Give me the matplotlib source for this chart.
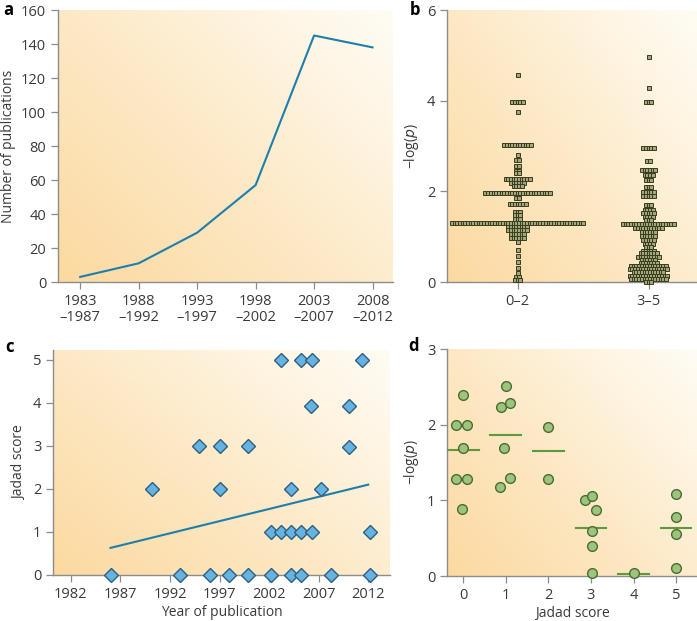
import numpy as np
import matplotlib
matplotlib.use('Agg')
import matplotlib.pyplot as plt
from matplotlib.colors import LinearSegmentedColormap

plt.rcParams['font.family'] = ['Open Sans', 'DejaVu Sans']
plt.rcParams['font.size'] = 10

# ---------------- data ----------------
# panel a
a_periods = ['1983\n\u20131987', '1988\n\u20131992', '1993\n\u20131997',
             '1998\n\u20132002', '2003\n\u20132007', '2008\n\u20132012']
a_counts = [3, 11, 29, 57, 145, 138]

# panel b: rows of the dot plot (value, number of studies)
b_low_vals = [4.57, 3.97, 3.76, 3.02, 2.8, 2.69, 2.56, 2.45, 2.4, 2.27, 2.19, 2.12,
              1.97, 1.85, 1.71, 1.55, 1.48, 1.38, 1.3, 1.22, 1.15, 1.06, 0.96,
              0.89, 0.71, 0.57, 0.45, 0.3, 0.19, 0.1, 0.04]
b_low_counts = [1, 5, 1, 11, 1, 2, 2, 2, 2, 10, 6, 4,
                25, 2, 7, 3, 3, 3, 50, 8, 8, 6, 6,
                1, 1, 1, 1, 1, 1, 2, 3]
b_high_vals = [4.97, 4.29, 3.98, 2.96, 2.66, 2.47, 2.36, 2.25, 2.1, 1.98, 1.9,
               1.7, 1.59, 1.52, 1.44, 1.37, 1.28, 1.2, 1.11, 1.02, 0.93, 0.84,
               0.77, 0.69, 0.63, 0.56, 0.49, 0.42, 0.35, 0.29, 0.21, 0.13, 0.07, 0.01]
b_high_counts = [1, 1, 3, 5, 2, 6, 4, 3, 3, 5, 5,
                 3, 4, 5, 4, 3, 20, 11, 6, 6, 5, 4,
                 3, 5, 7, 9, 6, 7, 14, 15, 12, 15, 14, 3]
b_groups = ['0\u20132', '3\u20135']

# panel c
c_years = [1986.1, 1990.2, 1993.0, 1994.9, 1996.0, 1997.0, 1997.0, 1998.0, 1999.85,
           1999.9, 2002.2, 2002.2, 2003.2, 2003.2, 2004.2, 2004.2, 2004.2, 2005.2,
           2005.2, 2005.2, 2006.3, 2006.2, 2006.3, 2007.2, 2008.2, 2011.4, 2010.1,
           2010.1, 2012.2, 2012.2]
c_scores = [0, 2, 0, 3, 0, 3, 2, 0, 3,
            0, 0, 1, 1, 5, 1, 2, 0, 5,
            1, 0, 5, 3.93, 1, 2, 0, 5, 3.93,
            2.98, 1, 0]
c_trend_years = [1986, 2012]
c_trend_scores = [0.63, 2.1]

# panel d
d_x = [0.0, -0.16, 0.10, 0.0, -0.17, 0.09, -0.02,
       1.0, 0.89, 1.11, 0.97, 1.11, 0.87,
       2.0, 2.0,
       2.86, 3.03, 3.13, 3.02, 3.02, 3.03,
       4.0,
       5.0, 5.0, 5.0, 5.0]
d_vals = [2.39, 2.0, 2.0, 1.69, 1.28, 1.28, 0.89,
          2.51, 2.23, 2.29, 1.69, 1.30, 1.18,
          1.97, 1.28,
          1.0, 1.06, 0.87, 0.60, 0.40, 0.035,
          0.044,
          1.09, 0.78, 0.56, 0.10]
d_scores = [0, 1, 2, 3, 4, 5]
d_medians = [1.67, 1.87, 1.65, 0.635, 0.026, 0.635]

# ---------------- style ----------------
grad_cmap = LinearSegmentedColormap.from_list('bg', ['#fffcf4', '#fde9c6', '#fcd9a0'])
spine_col = '#8c8c8c'
text_col = '#3a3a3a'
blue_line = '#1f7fac'


def style_axes(ax):
    for s in ['top', 'right']:
        ax.spines[s].set_visible(False)
    for s in ['left', 'bottom']:
        ax.spines[s].set_color(spine_col)
        ax.spines[s].set_linewidth(1.0)
    ax.tick_params(colors=spine_col, labelcolor=text_col, length=5, width=0.9,
                   labelsize=10.5, direction='out')


def add_gradient(ax):
    gx, gy = np.meshgrid(np.linspace(0, 1, 200), np.linspace(0, 1, 200))
    t = ((1 - gx) * 0.55 + (1 - gy) * 0.45)
    ax.imshow(t ** 1.1, cmap=grad_cmap, vmin=0, vmax=1, extent=(0, 1, 0, 1),
              origin='lower', transform=ax.transAxes, aspect='auto', zorder=0,
              interpolation='bilinear')


W, H = 697, 621
fig = plt.figure(figsize=(W / 100, H / 100), dpi=100)


def px_axes(x0, y0, x1, y1):
    return fig.add_axes([x0 / W, 1 - y1 / H, (x1 - x0) / W, (y1 - y0) / H])


# ---------------- panel a ----------------
ax = px_axes(58, 10, 393, 282)
add_gradient(ax)
ax.plot(range(len(a_counts)), a_counts, color=blue_line, lw=1.5, zorder=3)
ax.set_xlim(-0.38, 5.35)
ax.set_ylim(0, 160)
ax.set_yticks(range(0, 161, 20))
ax.set_xticks(range(len(a_periods)))
ax.set_xticklabels(a_periods, linespacing=1.1)
ax.set_ylabel('Number of publications', color=text_col, fontsize=10)
style_axes(ax)
fig.text(3 / W, 1 - 10 / H, 'a', fontsize=12, fontweight='bold', va='center')

# ---------------- panel b ----------------
ax = px_axes(447, 10, 697, 282)
add_gradient(ax)
pitch = 0.0205
for gi, (vals, counts) in enumerate([(b_low_vals, b_low_counts),
                                     (b_high_vals, b_high_counts)]):
    xs, ys = [], []
    for v, n in zip(vals, counts):
        offs = (np.arange(n) - (n - 1) / 2) * pitch
        xs.extend(gi + offs)
        ys.extend([v] * n)
    ax.plot(xs, ys, ls='none', marker='s', ms=2.2, mfc='#a3a878', mec='#3b3b22',
            mew=0.7, zorder=3, clip_on=False)
ax.set_xlim(-0.54, 1.37)
ax.set_ylim(0, 6)
ax.set_yticks([0, 2, 4, 6])
ax.set_xticks([0, 1])
ax.set_xticklabels(b_groups)
ax.set_ylabel('\u2212log($p$)', color=text_col, fontsize=10)
style_axes(ax)
fig.text(410 / W, 1 - 10 / H, 'b', fontsize=12, fontweight='bold', va='center')

# ---------------- panel c ----------------
ax = px_axes(53, 350, 390, 575)
add_gradient(ax)
ax.plot(c_trend_years, c_trend_scores, color=blue_line, lw=1.5, zorder=3)
ax.plot(c_years, c_scores, ls='none', marker='D', ms=7.5, mfc='#66b2e0',
        mec='#2d5f80', mew=1.0, zorder=4, clip_on=False)
ax.set_xlim(1980.2, 2014.2)
ax.set_ylim(0, 5.23)
ax.set_xticks(range(1982, 2013, 5))
ax.set_yticks(range(0, 6))
ax.set_xlabel('Year of publication', color=text_col, fontsize=10, labelpad=2)
ax.set_ylabel('Jadad score', color=text_col, fontsize=10)
style_axes(ax)
fig.text(5 / W, 1 - 347 / H, 'c', fontsize=12, fontweight='bold', va='center')

# ---------------- panel d ----------------
ax = px_axes(447, 349, 697, 576)
add_gradient(ax)
for s, m in zip(d_scores, d_medians):
    ax.plot([s - 0.36, s + 0.36], [m, m], color='#5c9a3c', lw=1.5, zorder=3)
ax.plot(d_x, d_vals, ls='none', marker='o', ms=7, mfc='#9dc47c', mec='#4b6b32',
        mew=1.0, zorder=4, clip_on=False)
ax.set_xlim(-0.38, 5.49)
ax.set_ylim(0, 3)
ax.set_xticks(d_scores)
ax.set_yticks([0, 1, 2, 3])
ax.set_xlabel('Jadad score', color=text_col, fontsize=10, labelpad=2)
ax.set_ylabel('\u2212log($p$)', color=text_col, fontsize=10)
style_axes(ax)
fig.text(408 / W, 1 - 346 / H, 'd', fontsize=12, fontweight='bold', va='center')

fig.savefig('out.png', dpi=100)
